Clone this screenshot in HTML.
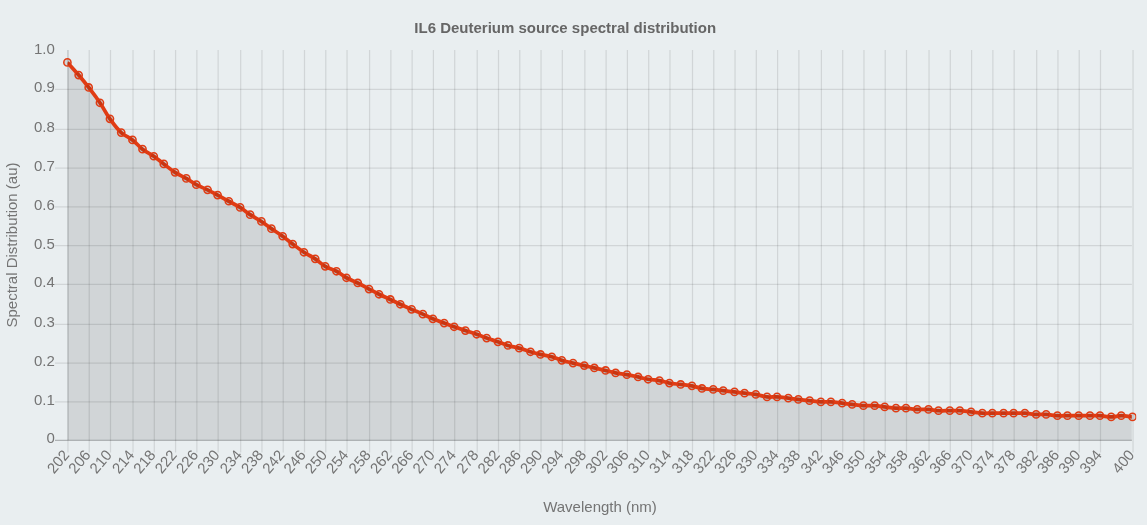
<!DOCTYPE html>
<html><head><meta charset="utf-8"><title>IL6 Deuterium source spectral distribution</title>
<style>
html,body{margin:0;padding:0;background:#e9eef0;}
body{width:1147px;height:525px;overflow:hidden;}
svg{display:block}
text{font-family:"Liberation Sans",Arial,Helvetica,sans-serif;font-size:15px;fill:#747474;}
</style></head><body>
<svg width="1147" height="525" viewBox="0 0 1147 525">
<rect width="1147" height="525" fill="#e9eef0"/>
<g transform="translate(0,0)">

<text x="565.2" y="33" text-anchor="middle" font-weight="bold" style="fill:#666">IL6 Deuterium source spectral distribution</text>
<line x1="55.0" x2="1131.9" y1="440.38" y2="440.38" stroke="rgba(0,0,0,0.25)" stroke-width="1.25"/>
<text x="54.8" y="443.38" text-anchor="end">0</text>
<line x1="55.0" x2="1131.9" y1="401.88" y2="401.88" stroke="rgba(0,0,0,0.1)" stroke-width="1.25"/>
<text x="54.8" y="404.88" text-anchor="end">0.1</text>
<line x1="55.0" x2="1131.9" y1="363.12" y2="363.12" stroke="rgba(0,0,0,0.1)" stroke-width="1.25"/>
<text x="54.8" y="366.12" text-anchor="end">0.2</text>
<line x1="55.0" x2="1131.9" y1="324.38" y2="324.38" stroke="rgba(0,0,0,0.1)" stroke-width="1.25"/>
<text x="54.8" y="327.38" text-anchor="end">0.3</text>
<line x1="55.0" x2="1131.9" y1="284.38" y2="284.38" stroke="rgba(0,0,0,0.1)" stroke-width="1.25"/>
<text x="54.8" y="287.38" text-anchor="end">0.4</text>
<line x1="55.0" x2="1131.9" y1="245.62" y2="245.62" stroke="rgba(0,0,0,0.1)" stroke-width="1.25"/>
<text x="54.8" y="248.62" text-anchor="end">0.5</text>
<line x1="55.0" x2="1131.9" y1="206.88" y2="206.88" stroke="rgba(0,0,0,0.1)" stroke-width="1.25"/>
<text x="54.8" y="209.88" text-anchor="end">0.6</text>
<line x1="55.0" x2="1131.9" y1="168.12" y2="168.12" stroke="rgba(0,0,0,0.1)" stroke-width="1.25"/>
<text x="54.8" y="171.12" text-anchor="end">0.7</text>
<line x1="55.0" x2="1131.9" y1="129.38" y2="129.38" stroke="rgba(0,0,0,0.1)" stroke-width="1.25"/>
<text x="54.8" y="132.38" text-anchor="end">0.8</text>
<line x1="55.0" x2="1131.9" y1="89.38" y2="89.38" stroke="rgba(0,0,0,0.1)" stroke-width="1.25"/>
<text x="54.8" y="92.38" text-anchor="end">0.9</text>
<text x="54.8" y="53.62" text-anchor="end">1.0</text>
<line x1="67.95" x2="67.95" y1="50" y2="452.5" stroke="rgba(0,0,0,0.1)" stroke-width="1.25"/>
<line x1="67.95" x2="67.95" y1="50" y2="440" stroke="rgba(0,0,0,0.1)" stroke-width="1.25"/>
<text transform="translate(67.40,453.00) rotate(-50)" text-anchor="end" y="3.5">202</text>
<line x1="89.23" x2="89.23" y1="50" y2="452.5" stroke="rgba(0,0,0,0.1)" stroke-width="1.25"/>
<text transform="translate(88.68,453.00) rotate(-50)" text-anchor="end" y="3.5">206</text>
<line x1="110.50" x2="110.50" y1="50" y2="452.5" stroke="rgba(0,0,0,0.1)" stroke-width="1.25"/>
<text transform="translate(109.95,453.00) rotate(-50)" text-anchor="end" y="3.5">210</text>
<line x1="133.03" x2="133.03" y1="50" y2="452.5" stroke="rgba(0,0,0,0.1)" stroke-width="1.25"/>
<text transform="translate(132.48,453.00) rotate(-50)" text-anchor="end" y="3.5">214</text>
<line x1="154.31" x2="154.31" y1="50" y2="452.5" stroke="rgba(0,0,0,0.1)" stroke-width="1.25"/>
<text transform="translate(153.76,453.00) rotate(-50)" text-anchor="end" y="3.5">218</text>
<line x1="175.59" x2="175.59" y1="50" y2="452.5" stroke="rgba(0,0,0,0.1)" stroke-width="1.25"/>
<text transform="translate(175.04,453.00) rotate(-50)" text-anchor="end" y="3.5">222</text>
<line x1="196.86" x2="196.86" y1="50" y2="452.5" stroke="rgba(0,0,0,0.1)" stroke-width="1.25"/>
<text transform="translate(196.31,453.00) rotate(-50)" text-anchor="end" y="3.5">226</text>
<line x1="218.14" x2="218.14" y1="50" y2="452.5" stroke="rgba(0,0,0,0.1)" stroke-width="1.25"/>
<text transform="translate(217.59,453.00) rotate(-50)" text-anchor="end" y="3.5">230</text>
<line x1="240.67" x2="240.67" y1="50" y2="452.5" stroke="rgba(0,0,0,0.1)" stroke-width="1.25"/>
<text transform="translate(240.12,453.00) rotate(-50)" text-anchor="end" y="3.5">234</text>
<line x1="261.95" x2="261.95" y1="50" y2="452.5" stroke="rgba(0,0,0,0.1)" stroke-width="1.25"/>
<text transform="translate(261.40,453.00) rotate(-50)" text-anchor="end" y="3.5">238</text>
<line x1="283.22" x2="283.22" y1="50" y2="452.5" stroke="rgba(0,0,0,0.1)" stroke-width="1.25"/>
<text transform="translate(282.67,453.00) rotate(-50)" text-anchor="end" y="3.5">242</text>
<line x1="304.50" x2="304.50" y1="50" y2="452.5" stroke="rgba(0,0,0,0.1)" stroke-width="1.25"/>
<text transform="translate(303.95,453.00) rotate(-50)" text-anchor="end" y="3.5">246</text>
<line x1="325.78" x2="325.78" y1="50" y2="452.5" stroke="rgba(0,0,0,0.1)" stroke-width="1.25"/>
<text transform="translate(325.23,453.00) rotate(-50)" text-anchor="end" y="3.5">250</text>
<line x1="347.05" x2="347.05" y1="50" y2="452.5" stroke="rgba(0,0,0,0.1)" stroke-width="1.25"/>
<text transform="translate(346.50,453.00) rotate(-50)" text-anchor="end" y="3.5">254</text>
<line x1="369.58" x2="369.58" y1="50" y2="452.5" stroke="rgba(0,0,0,0.1)" stroke-width="1.25"/>
<text transform="translate(369.03,453.00) rotate(-50)" text-anchor="end" y="3.5">258</text>
<line x1="390.86" x2="390.86" y1="50" y2="452.5" stroke="rgba(0,0,0,0.1)" stroke-width="1.25"/>
<text transform="translate(390.31,453.00) rotate(-50)" text-anchor="end" y="3.5">262</text>
<line x1="412.14" x2="412.14" y1="50" y2="452.5" stroke="rgba(0,0,0,0.1)" stroke-width="1.25"/>
<text transform="translate(411.59,453.00) rotate(-50)" text-anchor="end" y="3.5">266</text>
<line x1="433.41" x2="433.41" y1="50" y2="452.5" stroke="rgba(0,0,0,0.1)" stroke-width="1.25"/>
<text transform="translate(432.86,453.00) rotate(-50)" text-anchor="end" y="3.5">270</text>
<line x1="454.69" x2="454.69" y1="50" y2="452.5" stroke="rgba(0,0,0,0.1)" stroke-width="1.25"/>
<text transform="translate(454.14,453.00) rotate(-50)" text-anchor="end" y="3.5">274</text>
<line x1="477.22" x2="477.22" y1="50" y2="452.5" stroke="rgba(0,0,0,0.1)" stroke-width="1.25"/>
<text transform="translate(476.67,453.00) rotate(-50)" text-anchor="end" y="3.5">278</text>
<line x1="498.50" x2="498.50" y1="50" y2="452.5" stroke="rgba(0,0,0,0.1)" stroke-width="1.25"/>
<text transform="translate(497.95,453.00) rotate(-50)" text-anchor="end" y="3.5">282</text>
<line x1="519.77" x2="519.77" y1="50" y2="452.5" stroke="rgba(0,0,0,0.1)" stroke-width="1.25"/>
<text transform="translate(519.22,453.00) rotate(-50)" text-anchor="end" y="3.5">286</text>
<line x1="541.05" x2="541.05" y1="50" y2="452.5" stroke="rgba(0,0,0,0.1)" stroke-width="1.25"/>
<text transform="translate(540.50,453.00) rotate(-50)" text-anchor="end" y="3.5">290</text>
<line x1="562.33" x2="562.33" y1="50" y2="452.5" stroke="rgba(0,0,0,0.1)" stroke-width="1.25"/>
<text transform="translate(561.78,453.00) rotate(-50)" text-anchor="end" y="3.5">294</text>
<line x1="584.86" x2="584.86" y1="50" y2="452.5" stroke="rgba(0,0,0,0.1)" stroke-width="1.25"/>
<text transform="translate(584.31,453.00) rotate(-50)" text-anchor="end" y="3.5">298</text>
<line x1="606.13" x2="606.13" y1="50" y2="452.5" stroke="rgba(0,0,0,0.1)" stroke-width="1.25"/>
<text transform="translate(605.58,453.00) rotate(-50)" text-anchor="end" y="3.5">302</text>
<line x1="627.41" x2="627.41" y1="50" y2="452.5" stroke="rgba(0,0,0,0.1)" stroke-width="1.25"/>
<text transform="translate(626.86,453.00) rotate(-50)" text-anchor="end" y="3.5">306</text>
<line x1="648.69" x2="648.69" y1="50" y2="452.5" stroke="rgba(0,0,0,0.1)" stroke-width="1.25"/>
<text transform="translate(648.14,453.00) rotate(-50)" text-anchor="end" y="3.5">310</text>
<line x1="669.96" x2="669.96" y1="50" y2="452.5" stroke="rgba(0,0,0,0.1)" stroke-width="1.25"/>
<text transform="translate(669.41,453.00) rotate(-50)" text-anchor="end" y="3.5">314</text>
<line x1="692.49" x2="692.49" y1="50" y2="452.5" stroke="rgba(0,0,0,0.1)" stroke-width="1.25"/>
<text transform="translate(691.94,453.00) rotate(-50)" text-anchor="end" y="3.5">318</text>
<line x1="713.77" x2="713.77" y1="50" y2="452.5" stroke="rgba(0,0,0,0.1)" stroke-width="1.25"/>
<text transform="translate(713.22,453.00) rotate(-50)" text-anchor="end" y="3.5">322</text>
<line x1="735.05" x2="735.05" y1="50" y2="452.5" stroke="rgba(0,0,0,0.1)" stroke-width="1.25"/>
<text transform="translate(734.50,453.00) rotate(-50)" text-anchor="end" y="3.5">326</text>
<line x1="756.32" x2="756.32" y1="50" y2="452.5" stroke="rgba(0,0,0,0.1)" stroke-width="1.25"/>
<text transform="translate(755.77,453.00) rotate(-50)" text-anchor="end" y="3.5">330</text>
<line x1="777.60" x2="777.60" y1="50" y2="452.5" stroke="rgba(0,0,0,0.1)" stroke-width="1.25"/>
<text transform="translate(777.05,453.00) rotate(-50)" text-anchor="end" y="3.5">334</text>
<line x1="798.88" x2="798.88" y1="50" y2="452.5" stroke="rgba(0,0,0,0.1)" stroke-width="1.25"/>
<text transform="translate(798.33,453.00) rotate(-50)" text-anchor="end" y="3.5">338</text>
<line x1="821.40" x2="821.40" y1="50" y2="452.5" stroke="rgba(0,0,0,0.1)" stroke-width="1.25"/>
<text transform="translate(820.85,453.00) rotate(-50)" text-anchor="end" y="3.5">342</text>
<line x1="842.68" x2="842.68" y1="50" y2="452.5" stroke="rgba(0,0,0,0.1)" stroke-width="1.25"/>
<text transform="translate(842.13,453.00) rotate(-50)" text-anchor="end" y="3.5">346</text>
<line x1="863.96" x2="863.96" y1="50" y2="452.5" stroke="rgba(0,0,0,0.1)" stroke-width="1.25"/>
<text transform="translate(863.41,453.00) rotate(-50)" text-anchor="end" y="3.5">350</text>
<line x1="885.24" x2="885.24" y1="50" y2="452.5" stroke="rgba(0,0,0,0.1)" stroke-width="1.25"/>
<text transform="translate(884.69,453.00) rotate(-50)" text-anchor="end" y="3.5">354</text>
<line x1="906.51" x2="906.51" y1="50" y2="452.5" stroke="rgba(0,0,0,0.1)" stroke-width="1.25"/>
<text transform="translate(905.96,453.00) rotate(-50)" text-anchor="end" y="3.5">358</text>
<line x1="929.04" x2="929.04" y1="50" y2="452.5" stroke="rgba(0,0,0,0.1)" stroke-width="1.25"/>
<text transform="translate(928.49,453.00) rotate(-50)" text-anchor="end" y="3.5">362</text>
<line x1="950.32" x2="950.32" y1="50" y2="452.5" stroke="rgba(0,0,0,0.1)" stroke-width="1.25"/>
<text transform="translate(949.77,453.00) rotate(-50)" text-anchor="end" y="3.5">366</text>
<line x1="971.60" x2="971.60" y1="50" y2="452.5" stroke="rgba(0,0,0,0.1)" stroke-width="1.25"/>
<text transform="translate(971.05,453.00) rotate(-50)" text-anchor="end" y="3.5">370</text>
<line x1="992.87" x2="992.87" y1="50" y2="452.5" stroke="rgba(0,0,0,0.1)" stroke-width="1.25"/>
<text transform="translate(992.32,453.00) rotate(-50)" text-anchor="end" y="3.5">374</text>
<line x1="1014.15" x2="1014.15" y1="50" y2="452.5" stroke="rgba(0,0,0,0.1)" stroke-width="1.25"/>
<text transform="translate(1013.60,453.00) rotate(-50)" text-anchor="end" y="3.5">378</text>
<line x1="1036.68" x2="1036.68" y1="50" y2="452.5" stroke="rgba(0,0,0,0.1)" stroke-width="1.25"/>
<text transform="translate(1036.13,453.00) rotate(-50)" text-anchor="end" y="3.5">382</text>
<line x1="1057.95" x2="1057.95" y1="50" y2="452.5" stroke="rgba(0,0,0,0.1)" stroke-width="1.25"/>
<text transform="translate(1057.40,453.00) rotate(-50)" text-anchor="end" y="3.5">386</text>
<line x1="1079.23" x2="1079.23" y1="50" y2="452.5" stroke="rgba(0,0,0,0.1)" stroke-width="1.25"/>
<text transform="translate(1078.68,453.00) rotate(-50)" text-anchor="end" y="3.5">390</text>
<line x1="1100.51" x2="1100.51" y1="50" y2="452.5" stroke="rgba(0,0,0,0.1)" stroke-width="1.25"/>
<text transform="translate(1099.96,453.00) rotate(-50)" text-anchor="end" y="3.5">394</text>
<line x1="1133.05" x2="1133.05" y1="50" y2="452.5" stroke="rgba(0,0,0,0.1)" stroke-width="1.25"/>
<text transform="translate(1132.50,453.00) rotate(-50)" text-anchor="end" y="3.5">400</text>
<defs><clipPath id="ca"><rect x="67.5" y="49.5" width="1064.3" height="391"/></clipPath><clipPath id="cv"><rect x="0" y="0" width="1136.25" height="525"/></clipPath></defs>
<path d="M67.5,440 L67.40,62.40 C71.91,67.46 74.28,69.89 78.66,75.05 C82.79,79.91 84.79,82.40 88.68,87.45 C93.31,93.48 95.68,96.46 99.94,102.75 C104.19,109.02 105.56,112.69 109.95,118.85 C114.07,124.61 116.10,127.75 121.22,132.55 C125.11,136.19 128.25,136.64 132.48,139.95 C136.76,143.28 138.20,145.86 142.50,149.15 C146.71,152.38 149.39,153.21 153.76,156.25 C157.90,159.13 159.74,160.90 163.77,163.95 C168.25,167.34 170.32,169.32 175.04,172.35 C179.33,175.12 181.87,175.89 186.30,178.45 C190.38,180.81 192.17,182.43 196.31,184.65 C200.68,186.99 203.12,187.67 207.58,189.85 C211.63,191.83 213.61,192.92 217.59,195.05 C222.12,197.48 224.35,198.77 228.85,201.25 C233.36,203.73 235.77,204.71 240.12,207.45 C244.29,210.07 246.01,211.94 250.13,214.65 C254.52,217.54 257.00,218.56 261.40,221.45 C265.51,224.16 267.36,225.83 271.41,228.65 C275.87,231.75 278.27,233.06 282.67,236.25 C286.78,239.22 288.63,241.00 292.69,244.05 C297.14,247.40 299.30,249.19 303.95,252.25 C308.31,255.11 310.87,255.97 315.21,258.85 C319.38,261.61 320.93,263.85 325.23,266.35 C329.44,268.81 332.17,268.94 336.49,271.25 C340.69,273.50 342.33,275.46 346.50,277.75 C350.84,280.14 353.33,280.73 357.77,282.95 C362.35,285.25 364.51,286.65 369.03,289.05 C373.02,291.17 374.99,292.27 379.05,294.25 C383.50,296.43 385.82,297.34 390.31,299.45 C394.33,301.34 396.30,302.38 400.32,304.25 C404.81,306.34 407.06,307.36 411.59,309.35 C416.07,311.32 418.38,312.15 422.85,314.15 C426.89,315.95 428.78,317.14 432.86,318.85 C437.30,320.70 439.62,321.38 444.13,323.05 C448.13,324.54 450.11,325.33 454.14,326.75 C458.62,328.33 460.89,329.05 465.40,330.55 C469.90,332.05 472.20,332.67 476.67,334.25 C480.71,335.67 482.65,336.61 486.68,338.05 C491.16,339.65 493.45,340.29 497.95,341.85 C501.97,343.25 503.88,344.24 507.96,345.45 C512.39,346.76 514.76,346.90 519.22,348.15 C523.78,349.42 525.95,350.41 530.49,351.75 C534.46,352.93 536.46,353.50 540.50,354.45 C544.97,355.50 547.34,355.52 551.76,356.75 C555.85,357.88 557.70,359.14 561.78,360.35 C566.21,361.66 568.53,362.01 573.04,363.05 C577.54,364.09 579.81,364.51 584.31,365.55 C588.32,366.47 590.30,367.03 594.32,367.95 C598.82,368.99 601.09,369.39 605.58,370.45 C609.60,371.39 611.55,372.15 615.59,372.95 C620.06,373.83 622.37,373.85 626.86,374.65 C631.39,375.45 633.63,375.98 638.12,376.95 C642.14,377.82 644.09,378.57 648.14,379.25 C652.60,380.01 654.94,379.75 659.40,380.55 C663.46,381.27 665.36,382.31 669.41,383.05 C673.87,383.87 676.17,383.89 680.68,384.45 C685.18,385.01 687.49,385.01 691.94,385.85 C696.00,386.61 697.89,387.77 701.95,388.45 C706.40,389.20 708.72,388.96 713.22,389.43 C717.23,389.85 719.22,390.21 723.23,390.68 C727.73,391.21 729.99,391.40 734.50,391.93 C738.50,392.40 740.50,392.71 744.51,393.18 C749.01,393.71 751.31,393.69 755.77,394.43 C760.32,395.19 762.48,396.39 767.04,396.93 C770.99,397.39 773.06,396.70 777.05,396.93 C781.57,397.20 783.81,397.65 788.31,398.18 C792.32,398.65 794.32,398.96 798.33,399.43 C802.83,399.96 805.09,400.18 809.59,400.68 C814.10,401.18 816.34,401.66 820.85,401.93 C824.85,402.16 826.88,401.70 830.87,401.93 C835.39,402.20 837.63,402.65 842.13,403.18 C846.14,403.65 848.14,403.96 852.14,404.43 C856.65,404.96 858.89,405.43 863.41,405.68 C867.90,405.93 870.18,405.42 874.67,405.68 C878.69,405.92 880.68,406.46 884.69,406.93 C889.19,407.46 891.43,407.91 895.95,408.18 C899.94,408.41 901.97,407.95 905.96,408.18 C910.48,408.45 912.71,409.18 917.23,409.43 C921.72,409.68 924.00,409.17 928.49,409.43 C932.51,409.67 934.48,410.44 938.50,410.68 C942.99,410.94 945.26,410.68 949.77,410.68 C953.77,410.68 955.79,410.45 959.78,410.68 C964.30,410.95 966.54,411.43 971.05,411.93 C975.55,412.43 977.79,412.91 982.31,413.18 C986.30,413.41 988.32,413.18 992.32,413.18 C996.83,413.18 999.08,413.18 1003.59,413.18 C1007.59,413.18 1009.59,413.18 1013.60,413.18 C1018.11,413.18 1020.37,412.93 1024.86,413.18 C1029.38,413.43 1031.61,414.16 1036.13,414.43 C1040.12,414.66 1042.15,414.20 1046.14,414.43 C1050.66,414.70 1052.89,415.41 1057.40,415.68 C1061.40,415.91 1063.41,415.68 1067.42,415.68 C1071.92,415.68 1074.18,415.68 1078.68,415.68 C1083.19,415.68 1085.44,415.68 1089.95,415.68 C1093.95,415.68 1095.97,415.45 1099.96,415.68 C1104.48,415.95 1106.72,416.93 1111.22,416.93 C1115.23,416.93 1117.23,415.68 1121.24,415.68 C1125.74,415.68 1127.99,416.43 1132.50,416.93 L1132.5,440 Z" fill="rgba(0,0,0,0.1)" clip-path="url(#ca)"/>
<path d="M67.40,62.40 C71.91,67.46 74.28,69.89 78.66,75.05 C82.79,79.91 84.79,82.40 88.68,87.45 C93.31,93.48 95.68,96.46 99.94,102.75 C104.19,109.02 105.56,112.69 109.95,118.85 C114.07,124.61 116.10,127.75 121.22,132.55 C125.11,136.19 128.25,136.64 132.48,139.95 C136.76,143.28 138.20,145.86 142.50,149.15 C146.71,152.38 149.39,153.21 153.76,156.25 C157.90,159.13 159.74,160.90 163.77,163.95 C168.25,167.34 170.32,169.32 175.04,172.35 C179.33,175.12 181.87,175.89 186.30,178.45 C190.38,180.81 192.17,182.43 196.31,184.65 C200.68,186.99 203.12,187.67 207.58,189.85 C211.63,191.83 213.61,192.92 217.59,195.05 C222.12,197.48 224.35,198.77 228.85,201.25 C233.36,203.73 235.77,204.71 240.12,207.45 C244.29,210.07 246.01,211.94 250.13,214.65 C254.52,217.54 257.00,218.56 261.40,221.45 C265.51,224.16 267.36,225.83 271.41,228.65 C275.87,231.75 278.27,233.06 282.67,236.25 C286.78,239.22 288.63,241.00 292.69,244.05 C297.14,247.40 299.30,249.19 303.95,252.25 C308.31,255.11 310.87,255.97 315.21,258.85 C319.38,261.61 320.93,263.85 325.23,266.35 C329.44,268.81 332.17,268.94 336.49,271.25 C340.69,273.50 342.33,275.46 346.50,277.75 C350.84,280.14 353.33,280.73 357.77,282.95 C362.35,285.25 364.51,286.65 369.03,289.05 C373.02,291.17 374.99,292.27 379.05,294.25 C383.50,296.43 385.82,297.34 390.31,299.45 C394.33,301.34 396.30,302.38 400.32,304.25 C404.81,306.34 407.06,307.36 411.59,309.35 C416.07,311.32 418.38,312.15 422.85,314.15 C426.89,315.95 428.78,317.14 432.86,318.85 C437.30,320.70 439.62,321.38 444.13,323.05 C448.13,324.54 450.11,325.33 454.14,326.75 C458.62,328.33 460.89,329.05 465.40,330.55 C469.90,332.05 472.20,332.67 476.67,334.25 C480.71,335.67 482.65,336.61 486.68,338.05 C491.16,339.65 493.45,340.29 497.95,341.85 C501.97,343.25 503.88,344.24 507.96,345.45 C512.39,346.76 514.76,346.90 519.22,348.15 C523.78,349.42 525.95,350.41 530.49,351.75 C534.46,352.93 536.46,353.50 540.50,354.45 C544.97,355.50 547.34,355.52 551.76,356.75 C555.85,357.88 557.70,359.14 561.78,360.35 C566.21,361.66 568.53,362.01 573.04,363.05 C577.54,364.09 579.81,364.51 584.31,365.55 C588.32,366.47 590.30,367.03 594.32,367.95 C598.82,368.99 601.09,369.39 605.58,370.45 C609.60,371.39 611.55,372.15 615.59,372.95 C620.06,373.83 622.37,373.85 626.86,374.65 C631.39,375.45 633.63,375.98 638.12,376.95 C642.14,377.82 644.09,378.57 648.14,379.25 C652.60,380.01 654.94,379.75 659.40,380.55 C663.46,381.27 665.36,382.31 669.41,383.05 C673.87,383.87 676.17,383.89 680.68,384.45 C685.18,385.01 687.49,385.01 691.94,385.85 C696.00,386.61 697.89,387.77 701.95,388.45 C706.40,389.20 708.72,388.96 713.22,389.43 C717.23,389.85 719.22,390.21 723.23,390.68 C727.73,391.21 729.99,391.40 734.50,391.93 C738.50,392.40 740.50,392.71 744.51,393.18 C749.01,393.71 751.31,393.69 755.77,394.43 C760.32,395.19 762.48,396.39 767.04,396.93 C770.99,397.39 773.06,396.70 777.05,396.93 C781.57,397.20 783.81,397.65 788.31,398.18 C792.32,398.65 794.32,398.96 798.33,399.43 C802.83,399.96 805.09,400.18 809.59,400.68 C814.10,401.18 816.34,401.66 820.85,401.93 C824.85,402.16 826.88,401.70 830.87,401.93 C835.39,402.20 837.63,402.65 842.13,403.18 C846.14,403.65 848.14,403.96 852.14,404.43 C856.65,404.96 858.89,405.43 863.41,405.68 C867.90,405.93 870.18,405.42 874.67,405.68 C878.69,405.92 880.68,406.46 884.69,406.93 C889.19,407.46 891.43,407.91 895.95,408.18 C899.94,408.41 901.97,407.95 905.96,408.18 C910.48,408.45 912.71,409.18 917.23,409.43 C921.72,409.68 924.00,409.17 928.49,409.43 C932.51,409.67 934.48,410.44 938.50,410.68 C942.99,410.94 945.26,410.68 949.77,410.68 C953.77,410.68 955.79,410.45 959.78,410.68 C964.30,410.95 966.54,411.43 971.05,411.93 C975.55,412.43 977.79,412.91 982.31,413.18 C986.30,413.41 988.32,413.18 992.32,413.18 C996.83,413.18 999.08,413.18 1003.59,413.18 C1007.59,413.18 1009.59,413.18 1013.60,413.18 C1018.11,413.18 1020.37,412.93 1024.86,413.18 C1029.38,413.43 1031.61,414.16 1036.13,414.43 C1040.12,414.66 1042.15,414.20 1046.14,414.43 C1050.66,414.70 1052.89,415.41 1057.40,415.68 C1061.40,415.91 1063.41,415.68 1067.42,415.68 C1071.92,415.68 1074.18,415.68 1078.68,415.68 C1083.19,415.68 1085.44,415.68 1089.95,415.68 C1093.95,415.68 1095.97,415.45 1099.96,415.68 C1104.48,415.95 1106.72,416.93 1111.22,416.93 C1115.23,416.93 1117.23,415.68 1121.24,415.68 C1125.74,415.68 1127.99,416.43 1132.50,416.93" fill="none" stroke="#e03c14" stroke-width="3.75" stroke-linejoin="round" stroke-linecap="butt" clip-path="url(#ca)"/>
<g clip-path="url(#cv)">
<circle cx="67.40" cy="62.40" r="3.6" fill="rgba(0,0,0,0.1)" stroke="#e03c14" stroke-width="1.55"/>
<circle cx="78.66" cy="75.05" r="3.6" fill="rgba(0,0,0,0.1)" stroke="#e03c14" stroke-width="1.55"/>
<circle cx="88.68" cy="87.45" r="3.6" fill="rgba(0,0,0,0.1)" stroke="#e03c14" stroke-width="1.55"/>
<circle cx="99.94" cy="102.75" r="3.6" fill="rgba(0,0,0,0.1)" stroke="#e03c14" stroke-width="1.55"/>
<circle cx="109.95" cy="118.85" r="3.6" fill="rgba(0,0,0,0.1)" stroke="#e03c14" stroke-width="1.55"/>
<circle cx="121.22" cy="132.55" r="3.6" fill="rgba(0,0,0,0.1)" stroke="#e03c14" stroke-width="1.55"/>
<circle cx="132.48" cy="139.95" r="3.6" fill="rgba(0,0,0,0.1)" stroke="#e03c14" stroke-width="1.55"/>
<circle cx="142.50" cy="149.15" r="3.6" fill="rgba(0,0,0,0.1)" stroke="#e03c14" stroke-width="1.55"/>
<circle cx="153.76" cy="156.25" r="3.6" fill="rgba(0,0,0,0.1)" stroke="#e03c14" stroke-width="1.55"/>
<circle cx="163.77" cy="163.95" r="3.6" fill="rgba(0,0,0,0.1)" stroke="#e03c14" stroke-width="1.55"/>
<circle cx="175.04" cy="172.35" r="3.6" fill="rgba(0,0,0,0.1)" stroke="#e03c14" stroke-width="1.55"/>
<circle cx="186.30" cy="178.45" r="3.6" fill="rgba(0,0,0,0.1)" stroke="#e03c14" stroke-width="1.55"/>
<circle cx="196.31" cy="184.65" r="3.6" fill="rgba(0,0,0,0.1)" stroke="#e03c14" stroke-width="1.55"/>
<circle cx="207.58" cy="189.85" r="3.6" fill="rgba(0,0,0,0.1)" stroke="#e03c14" stroke-width="1.55"/>
<circle cx="217.59" cy="195.05" r="3.6" fill="rgba(0,0,0,0.1)" stroke="#e03c14" stroke-width="1.55"/>
<circle cx="228.85" cy="201.25" r="3.6" fill="rgba(0,0,0,0.1)" stroke="#e03c14" stroke-width="1.55"/>
<circle cx="240.12" cy="207.45" r="3.6" fill="rgba(0,0,0,0.1)" stroke="#e03c14" stroke-width="1.55"/>
<circle cx="250.13" cy="214.65" r="3.6" fill="rgba(0,0,0,0.1)" stroke="#e03c14" stroke-width="1.55"/>
<circle cx="261.40" cy="221.45" r="3.6" fill="rgba(0,0,0,0.1)" stroke="#e03c14" stroke-width="1.55"/>
<circle cx="271.41" cy="228.65" r="3.6" fill="rgba(0,0,0,0.1)" stroke="#e03c14" stroke-width="1.55"/>
<circle cx="282.67" cy="236.25" r="3.6" fill="rgba(0,0,0,0.1)" stroke="#e03c14" stroke-width="1.55"/>
<circle cx="292.69" cy="244.05" r="3.6" fill="rgba(0,0,0,0.1)" stroke="#e03c14" stroke-width="1.55"/>
<circle cx="303.95" cy="252.25" r="3.6" fill="rgba(0,0,0,0.1)" stroke="#e03c14" stroke-width="1.55"/>
<circle cx="315.21" cy="258.85" r="3.6" fill="rgba(0,0,0,0.1)" stroke="#e03c14" stroke-width="1.55"/>
<circle cx="325.23" cy="266.35" r="3.6" fill="rgba(0,0,0,0.1)" stroke="#e03c14" stroke-width="1.55"/>
<circle cx="336.49" cy="271.25" r="3.6" fill="rgba(0,0,0,0.1)" stroke="#e03c14" stroke-width="1.55"/>
<circle cx="346.50" cy="277.75" r="3.6" fill="rgba(0,0,0,0.1)" stroke="#e03c14" stroke-width="1.55"/>
<circle cx="357.77" cy="282.95" r="3.6" fill="rgba(0,0,0,0.1)" stroke="#e03c14" stroke-width="1.55"/>
<circle cx="369.03" cy="289.05" r="3.6" fill="rgba(0,0,0,0.1)" stroke="#e03c14" stroke-width="1.55"/>
<circle cx="379.05" cy="294.25" r="3.6" fill="rgba(0,0,0,0.1)" stroke="#e03c14" stroke-width="1.55"/>
<circle cx="390.31" cy="299.45" r="3.6" fill="rgba(0,0,0,0.1)" stroke="#e03c14" stroke-width="1.55"/>
<circle cx="400.32" cy="304.25" r="3.6" fill="rgba(0,0,0,0.1)" stroke="#e03c14" stroke-width="1.55"/>
<circle cx="411.59" cy="309.35" r="3.6" fill="rgba(0,0,0,0.1)" stroke="#e03c14" stroke-width="1.55"/>
<circle cx="422.85" cy="314.15" r="3.6" fill="rgba(0,0,0,0.1)" stroke="#e03c14" stroke-width="1.55"/>
<circle cx="432.86" cy="318.85" r="3.6" fill="rgba(0,0,0,0.1)" stroke="#e03c14" stroke-width="1.55"/>
<circle cx="444.13" cy="323.05" r="3.6" fill="rgba(0,0,0,0.1)" stroke="#e03c14" stroke-width="1.55"/>
<circle cx="454.14" cy="326.75" r="3.6" fill="rgba(0,0,0,0.1)" stroke="#e03c14" stroke-width="1.55"/>
<circle cx="465.40" cy="330.55" r="3.6" fill="rgba(0,0,0,0.1)" stroke="#e03c14" stroke-width="1.55"/>
<circle cx="476.67" cy="334.25" r="3.6" fill="rgba(0,0,0,0.1)" stroke="#e03c14" stroke-width="1.55"/>
<circle cx="486.68" cy="338.05" r="3.6" fill="rgba(0,0,0,0.1)" stroke="#e03c14" stroke-width="1.55"/>
<circle cx="497.95" cy="341.85" r="3.6" fill="rgba(0,0,0,0.1)" stroke="#e03c14" stroke-width="1.55"/>
<circle cx="507.96" cy="345.45" r="3.6" fill="rgba(0,0,0,0.1)" stroke="#e03c14" stroke-width="1.55"/>
<circle cx="519.22" cy="348.15" r="3.6" fill="rgba(0,0,0,0.1)" stroke="#e03c14" stroke-width="1.55"/>
<circle cx="530.49" cy="351.75" r="3.6" fill="rgba(0,0,0,0.1)" stroke="#e03c14" stroke-width="1.55"/>
<circle cx="540.50" cy="354.45" r="3.6" fill="rgba(0,0,0,0.1)" stroke="#e03c14" stroke-width="1.55"/>
<circle cx="551.76" cy="356.75" r="3.6" fill="rgba(0,0,0,0.1)" stroke="#e03c14" stroke-width="1.55"/>
<circle cx="561.78" cy="360.35" r="3.6" fill="rgba(0,0,0,0.1)" stroke="#e03c14" stroke-width="1.55"/>
<circle cx="573.04" cy="363.05" r="3.6" fill="rgba(0,0,0,0.1)" stroke="#e03c14" stroke-width="1.55"/>
<circle cx="584.31" cy="365.55" r="3.6" fill="rgba(0,0,0,0.1)" stroke="#e03c14" stroke-width="1.55"/>
<circle cx="594.32" cy="367.95" r="3.6" fill="rgba(0,0,0,0.1)" stroke="#e03c14" stroke-width="1.55"/>
<circle cx="605.58" cy="370.45" r="3.6" fill="rgba(0,0,0,0.1)" stroke="#e03c14" stroke-width="1.55"/>
<circle cx="615.59" cy="372.95" r="3.6" fill="rgba(0,0,0,0.1)" stroke="#e03c14" stroke-width="1.55"/>
<circle cx="626.86" cy="374.65" r="3.6" fill="rgba(0,0,0,0.1)" stroke="#e03c14" stroke-width="1.55"/>
<circle cx="638.12" cy="376.95" r="3.6" fill="rgba(0,0,0,0.1)" stroke="#e03c14" stroke-width="1.55"/>
<circle cx="648.14" cy="379.25" r="3.6" fill="rgba(0,0,0,0.1)" stroke="#e03c14" stroke-width="1.55"/>
<circle cx="659.40" cy="380.55" r="3.6" fill="rgba(0,0,0,0.1)" stroke="#e03c14" stroke-width="1.55"/>
<circle cx="669.41" cy="383.05" r="3.6" fill="rgba(0,0,0,0.1)" stroke="#e03c14" stroke-width="1.55"/>
<circle cx="680.68" cy="384.45" r="3.6" fill="rgba(0,0,0,0.1)" stroke="#e03c14" stroke-width="1.55"/>
<circle cx="691.94" cy="385.85" r="3.6" fill="rgba(0,0,0,0.1)" stroke="#e03c14" stroke-width="1.55"/>
<circle cx="701.95" cy="388.45" r="3.6" fill="rgba(0,0,0,0.1)" stroke="#e03c14" stroke-width="1.55"/>
<circle cx="713.22" cy="389.43" r="3.6" fill="rgba(0,0,0,0.1)" stroke="#e03c14" stroke-width="1.55"/>
<circle cx="723.23" cy="390.68" r="3.6" fill="rgba(0,0,0,0.1)" stroke="#e03c14" stroke-width="1.55"/>
<circle cx="734.50" cy="391.93" r="3.6" fill="rgba(0,0,0,0.1)" stroke="#e03c14" stroke-width="1.55"/>
<circle cx="744.51" cy="393.18" r="3.6" fill="rgba(0,0,0,0.1)" stroke="#e03c14" stroke-width="1.55"/>
<circle cx="755.77" cy="394.43" r="3.6" fill="rgba(0,0,0,0.1)" stroke="#e03c14" stroke-width="1.55"/>
<circle cx="767.04" cy="396.93" r="3.6" fill="rgba(0,0,0,0.1)" stroke="#e03c14" stroke-width="1.55"/>
<circle cx="777.05" cy="396.93" r="3.6" fill="rgba(0,0,0,0.1)" stroke="#e03c14" stroke-width="1.55"/>
<circle cx="788.31" cy="398.18" r="3.6" fill="rgba(0,0,0,0.1)" stroke="#e03c14" stroke-width="1.55"/>
<circle cx="798.33" cy="399.43" r="3.6" fill="rgba(0,0,0,0.1)" stroke="#e03c14" stroke-width="1.55"/>
<circle cx="809.59" cy="400.68" r="3.6" fill="rgba(0,0,0,0.1)" stroke="#e03c14" stroke-width="1.55"/>
<circle cx="820.85" cy="401.93" r="3.6" fill="rgba(0,0,0,0.1)" stroke="#e03c14" stroke-width="1.55"/>
<circle cx="830.87" cy="401.93" r="3.6" fill="rgba(0,0,0,0.1)" stroke="#e03c14" stroke-width="1.55"/>
<circle cx="842.13" cy="403.18" r="3.6" fill="rgba(0,0,0,0.1)" stroke="#e03c14" stroke-width="1.55"/>
<circle cx="852.14" cy="404.43" r="3.6" fill="rgba(0,0,0,0.1)" stroke="#e03c14" stroke-width="1.55"/>
<circle cx="863.41" cy="405.68" r="3.6" fill="rgba(0,0,0,0.1)" stroke="#e03c14" stroke-width="1.55"/>
<circle cx="874.67" cy="405.68" r="3.6" fill="rgba(0,0,0,0.1)" stroke="#e03c14" stroke-width="1.55"/>
<circle cx="884.69" cy="406.93" r="3.6" fill="rgba(0,0,0,0.1)" stroke="#e03c14" stroke-width="1.55"/>
<circle cx="895.95" cy="408.18" r="3.6" fill="rgba(0,0,0,0.1)" stroke="#e03c14" stroke-width="1.55"/>
<circle cx="905.96" cy="408.18" r="3.6" fill="rgba(0,0,0,0.1)" stroke="#e03c14" stroke-width="1.55"/>
<circle cx="917.23" cy="409.43" r="3.6" fill="rgba(0,0,0,0.1)" stroke="#e03c14" stroke-width="1.55"/>
<circle cx="928.49" cy="409.43" r="3.6" fill="rgba(0,0,0,0.1)" stroke="#e03c14" stroke-width="1.55"/>
<circle cx="938.50" cy="410.68" r="3.6" fill="rgba(0,0,0,0.1)" stroke="#e03c14" stroke-width="1.55"/>
<circle cx="949.77" cy="410.68" r="3.6" fill="rgba(0,0,0,0.1)" stroke="#e03c14" stroke-width="1.55"/>
<circle cx="959.78" cy="410.68" r="3.6" fill="rgba(0,0,0,0.1)" stroke="#e03c14" stroke-width="1.55"/>
<circle cx="971.05" cy="411.93" r="3.6" fill="rgba(0,0,0,0.1)" stroke="#e03c14" stroke-width="1.55"/>
<circle cx="982.31" cy="413.18" r="3.6" fill="rgba(0,0,0,0.1)" stroke="#e03c14" stroke-width="1.55"/>
<circle cx="992.32" cy="413.18" r="3.6" fill="rgba(0,0,0,0.1)" stroke="#e03c14" stroke-width="1.55"/>
<circle cx="1003.59" cy="413.18" r="3.6" fill="rgba(0,0,0,0.1)" stroke="#e03c14" stroke-width="1.55"/>
<circle cx="1013.60" cy="413.18" r="3.6" fill="rgba(0,0,0,0.1)" stroke="#e03c14" stroke-width="1.55"/>
<circle cx="1024.86" cy="413.18" r="3.6" fill="rgba(0,0,0,0.1)" stroke="#e03c14" stroke-width="1.55"/>
<circle cx="1036.13" cy="414.43" r="3.6" fill="rgba(0,0,0,0.1)" stroke="#e03c14" stroke-width="1.55"/>
<circle cx="1046.14" cy="414.43" r="3.6" fill="rgba(0,0,0,0.1)" stroke="#e03c14" stroke-width="1.55"/>
<circle cx="1057.40" cy="415.68" r="3.6" fill="rgba(0,0,0,0.1)" stroke="#e03c14" stroke-width="1.55"/>
<circle cx="1067.42" cy="415.68" r="3.6" fill="rgba(0,0,0,0.1)" stroke="#e03c14" stroke-width="1.55"/>
<circle cx="1078.68" cy="415.68" r="3.6" fill="rgba(0,0,0,0.1)" stroke="#e03c14" stroke-width="1.55"/>
<circle cx="1089.95" cy="415.68" r="3.6" fill="rgba(0,0,0,0.1)" stroke="#e03c14" stroke-width="1.55"/>
<circle cx="1099.96" cy="415.68" r="3.6" fill="rgba(0,0,0,0.1)" stroke="#e03c14" stroke-width="1.55"/>
<circle cx="1111.22" cy="416.93" r="3.6" fill="rgba(0,0,0,0.1)" stroke="#e03c14" stroke-width="1.55"/>
<circle cx="1121.24" cy="415.68" r="3.6" fill="rgba(0,0,0,0.1)" stroke="#e03c14" stroke-width="1.55"/>
<circle cx="1132.50" cy="416.93" r="3.6" fill="rgba(0,0,0,0.1)" stroke="#e03c14" stroke-width="1.55"/>
</g>
</g>
<text transform="translate(17,245.0) rotate(-90)" text-anchor="middle">Spectral Distribution (au)</text>
<text x="600.0" y="512" text-anchor="middle">Wavelength (nm)</text>
</svg></body></html>
